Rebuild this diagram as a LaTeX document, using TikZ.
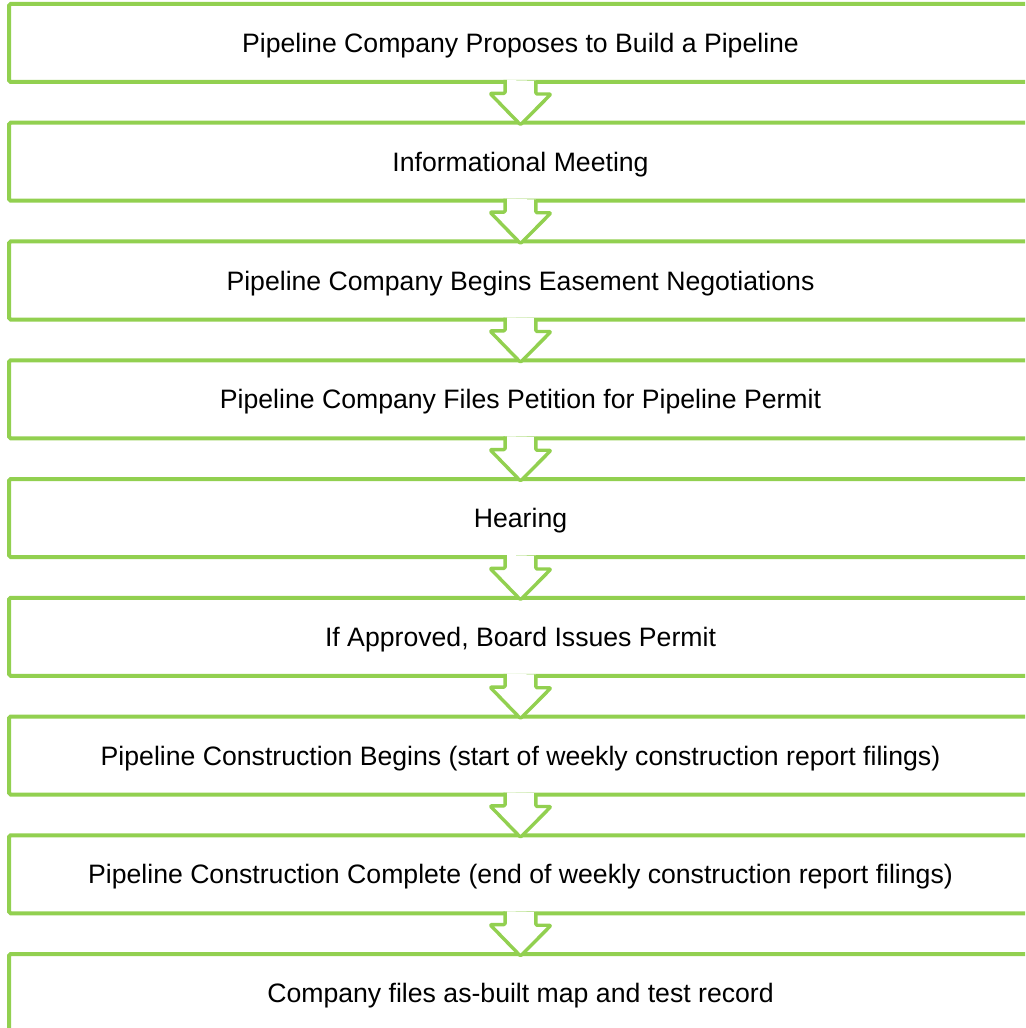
\documentclass[tikz,border=0pt]{standalone}
\usepackage{fontspec}
\setmainfont{Liberation Sans}
\usepackage{tikz}
\definecolor{stepgreen}{RGB}{146,208,80}

\begin{document}
\begin{tikzpicture}
	\def\bw{255.75mm}
	\def\bh{19.5mm}
	\def\pitch{29.6875mm}
	\tikzset{
		stepbox/.style={draw=stepgreen, line width=1mm, rounded corners=0.4mm,
			minimum width=\bw, minimum height=\bh, inner sep=0pt, outer sep=0pt,
			text depth=0pt, font=\fontsize{18.95}{22}\selectfont},
		downarrow/.style={draw=stepgreen, fill=white, line width=0.85mm,
			line join=round, rounded corners=0.3mm}
	}
	\useasboundingbox (0,0) rectangle (256.25mm,-257mm);
	\clip (0,0) rectangle (256.25mm,-257mm);

	% Steps, top to bottom
	\foreach \txt [count=\i] in {
			Pipeline Company Proposes to Build a Pipeline,
			Informational Meeting,
			Pipeline Company Begins Easement Negotiations,
			Pipeline Company Files Petition for Pipeline Permit,
			Hearing,
			{If Approved, Board Issues Permit},
			Pipeline Construction Begins (start of weekly construction report filings),
			Pipeline Construction Complete (end of weekly construction report filings),
			Company files as-built map and test record}
		\node[stepbox] (s\i) at (130.125mm, {-10.75mm-(\i-1)*\pitch}) {\txt};

	% Hollow arrows between the steps
	\foreach \i [evaluate=\i as \j using int(\i+1)] in {1,...,8}
		\draw[downarrow] ([shift={(-3.83mm,0.5mm)}]s\i.south) -- ++(0,-3.33mm) -- ++(-3.8mm,0)
			-- ([yshift=-0.5mm]s\j.north) -- ++(7.63mm,7.68mm) -- ++(-3.8mm,0) -- ++(0,3.33mm);
\end{tikzpicture}
\end{document}
